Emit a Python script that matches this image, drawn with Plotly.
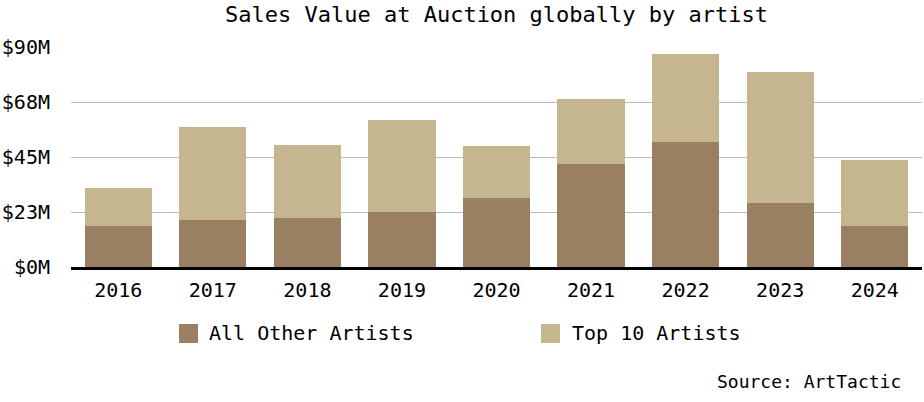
import plotly.graph_objects as go

years = ["2016", "2017", "2018", "2019", "2020", "2021", "2022", "2023", "2024"]
all_other = [16.9, 19.4, 20.2, 22.6, 28.4, 42.3, 51.3, 26.3, 16.9]
top10 = [15.5, 38.0, 29.8, 37.7, 21.2, 26.6, 36.0, 53.6, 27.0]
tick_vals = [0, 22.5, 45, 67.5, 90]
tick_text = ["$0M", "$23M", "$45M", "$68M", "$90M"]

DARK = "#9A8062"
LIGHT = "#C5B68F"
FONT = "DejaVu Sans Mono"

fig = go.Figure()
fig.add_trace(go.Bar(x=years, y=all_other, name="All Other Artists",
                     marker=dict(color=DARK, line=dict(width=0)), showlegend=False))
fig.add_trace(go.Bar(x=years, y=top10, name="Top 10 Artists",
                     marker=dict(color=LIGHT, line=dict(width=0)), showlegend=False))

W, H = 924, 402
L, R, T, B = 71, 2, 47, 135
pw, ph = W - L - R, H - T - B

def px(x):
    return (x - L) / pw

def py(y):
    return (H - B - y) / ph

shapes = []
annotations = []
for (sx, tx, label, col) in [(179, 209, "All Other Artists", DARK), (541, 572, "Top 10 Artists", LIGHT)]:
    shapes.append(dict(type="rect", xref="paper", yref="paper",
                       x0=px(sx), x1=px(sx + 19), y0=py(343), y1=py(324),
                       fillcolor=col, line=dict(width=0)))
    annotations.append(dict(text=label, xref="paper", yref="paper", x=px(tx - 2), y=py(333),
                            xanchor="left", yanchor="middle", showarrow=False,
                            font=dict(family=FONT, size=20, color="#000")))
annotations.append(dict(text="Source: ArtTactic", xref="paper", yref="paper", x=px(903), y=py(381),
                        xanchor="right", yanchor="middle", showarrow=False,
                        font=dict(family=FONT, size=18, color="#000")))

fig.update_layout(
    width=W, height=H,
    barmode="stack", bargap=0.29,
    margin=dict(l=L, r=R, t=T, b=B),
    paper_bgcolor="white", plot_bgcolor="white",
    font=dict(family=FONT, size=20, color="#000"),
    title=dict(text="Sales Value at Auction globally by artist", xref="paper", x=0.5, xanchor="center",
               yref="container", y=1 - 14 / H, yanchor="middle",
               font=dict(family=FONT, size=22, color="#000")),
    shapes=shapes, annotations=annotations,
)
fig.update_xaxes(showline=True, linecolor="#000", linewidth=2.5, ticks="outside", ticklen=3,
                 tickcolor="rgba(0,0,0,0)", tickfont=dict(family=FONT, size=20, color="#000"),
                 showgrid=False)
fig.update_yaxes(range=[0, 90], tickvals=tick_vals, ticktext=tick_text, showgrid=True,
                 gridcolor="#BBBBBB", gridwidth=1, zeroline=False, showline=False,
                 ticklabelstandoff=20, tickfont=dict(family=FONT, size=20, color="#000"))

fig.write_html("out.html", config={"displayModeBar": False},
               post_script="document.body.style.margin='0';")
